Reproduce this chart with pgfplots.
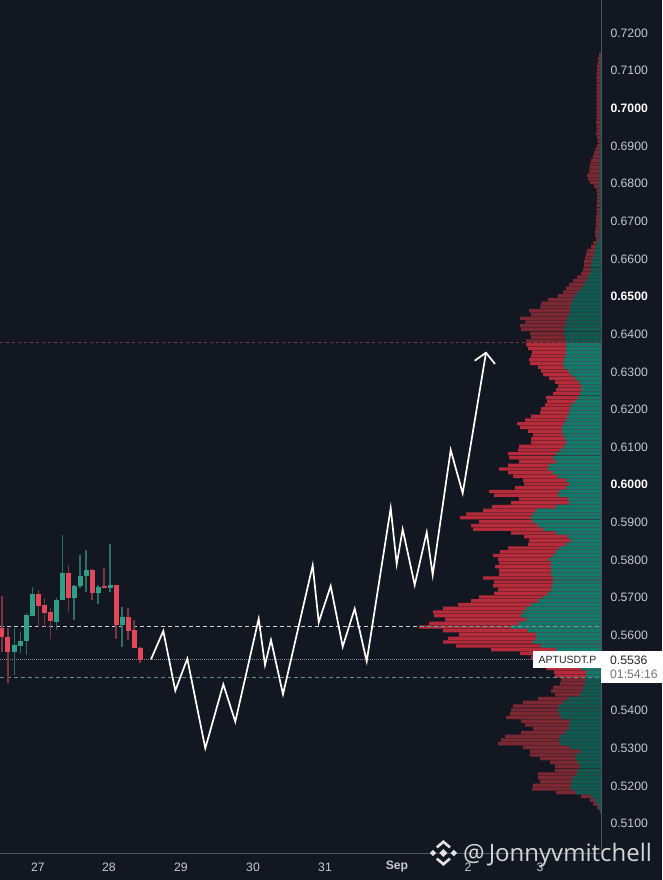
\documentclass[border=0pt]{standalone}
\usepackage{fontspec}
\usepackage{pgfplots}
\usepackage{pgfplotstable}
\pgfplotsset{compat=1.18}
\setmainfont{Liberation Sans}
\newfontfamily\wmfont{Open Sans}
\definecolor{bg}{HTML}{131722}
\definecolor{pred}{HTML}{B52B3A}
\definecolor{pgreen}{HTML}{10796A}
\definecolor{dred}{HTML}{7B2833}
\definecolor{dgreen}{HTML}{0E5A50}
\definecolor{cred}{HTML}{E2475A}
\definecolor{cgreen}{HTML}{2F9E86}
\definecolor{wred}{HTML}{7A3642}
\definecolor{wgreen}{HTML}{2A6E68}
\definecolor{axisln}{HTML}{50545E}
\definecolor{tick}{HTML}{C6C9D0}
\pgfplotstableread{
p T G
0.714 2 0.5
0.713 3 1
0.712 3.5 1
0.711 4 1
0.710 4 1
0.709 4.5 1
0.708 4.5 1
0.707 4.5 1
0.706 4.5 1
0.705 4.5 1
0.704 4.5 1
0.703 4.5 1
0.702 4.5 1
0.701 4.5 1
0.700 4.5 1
0.699 4.5 1
0.698 4.5 1
0.697 4.5 1
0.696 5 1
0.695 4.5 1
0.694 4.5 1
0.693 5 1
0.692 4 1
0.691 3.5 1
0.690 4 1
0.689 5.5 1.5
0.688 7 1.5
0.687 8 1.5
0.686 10 1.5
0.685 11 2
0.684 11.5 2
0.683 12 2
0.682 14 2
0.681 13 2
0.680 11 2
0.679 7 2
0.678 4.5 1.5
0.677 4 1.5
0.676 4 1.5
0.675 4 1.5
0.674 4.5 1.5
0.673 4.5 1.5
0.672 4.5 1.5
0.671 5 1.5
0.670 5 1.5
0.669 5 1.5
0.668 5.5 1.5
0.667 6 2
0.666 6 2
0.665 5 2
0.664 8 4
0.663 10 5
0.662 14 6
0.661 15 7
0.660 16 8
0.659 17 9
0.658 17 10
0.657 18 10
0.656 20 11
0.655 24 13
0.654 28 15
0.653 32 17
0.652 35 20
0.651 38 23
0.650 43 26
0.649 53 28
0.648 60 30
0.647 61 31
0.646 72 31
0.645 70 32
0.644 81 34
0.643 76 35
0.642 81 36
0.641 80 37
0.640 71 37
0.639 70 36
0.638 75 35
0.637 75 35
0.636 73 35
0.635 69 35
0.634 70 36
0.633 72 37
0.632 71 38
0.631 63 37
0.630 60 33
0.629 58 30
0.628 52 26
0.627 46 22
0.626 43 20
0.625 45 20
0.624 48 21
0.623 55 23
0.622 54 26
0.621 56 30
0.620 60 31
0.619 61 32
0.618 70 34
0.617 76 35
0.616 84 37
0.615 81 39
0.614 73 39
0.613 68 38
0.612 70 36
0.611 70 35
0.610 82 37
0.609 83 40
0.608 93 45
0.607 92 48
0.606 82 45
0.605 93 52
0.604 102 53
0.603 93 48
0.602 88 43
0.601 78 35
0.600 77 32
0.599 86 35
0.598 112 42
0.597 107 43
0.596 82 33
0.595 90 32
0.594 109 45
0.593 118 65
0.592 135 68
0.591 141 70
0.590 122 68
0.589 130 63
0.588 128 58
0.587 90 45
0.586 77 33
0.585 72 30
0.584 73 35
0.583 93 42
0.582 101 45
0.581 108 48
0.580 103 52
0.579 102 50
0.578 106 50
0.577 102 50
0.576 102 50
0.575 118 48
0.574 107 48
0.573 108 49
0.572 103 50
0.571 107 53
0.570 122 58
0.569 130 63
0.568 143 70
0.567 158 75
0.566 168 78
0.565 167 80
0.564 156 75
0.563 172 82
0.562 182 90
0.561 158 73
0.560 142 65
0.559 153 65
0.558 158 68
0.557 145 60
0.556 110 45
0.555 81 43
0.554 70 40
0.553 65 35
0.552 60 30
0.551 55 20
0.550 47 15
0.549 46 15
0.548 40 16
0.547 41 16
0.546 48 18
0.545 50 19
0.544 46 21
0.543 63 33
0.542 78 38
0.541 88 42
0.540 90 43
0.539 91 42
0.538 95 40
0.537 80 31
0.536 76 32
0.535 68 33
0.534 80 36
0.533 96 41
0.532 100 42
0.531 103 41
0.530 78 31
0.529 71 21
0.528 71 26
0.527 61 25
0.526 51 23
0.525 46 21
0.524 46 23
0.523 63 25
0.522 63 28
0.521 61 30
0.520 68 30
0.519 69 30
0.518 45 25
0.517 20 10
0.516 11 6
0.515 8 4
0.514 4 2
0.513 1.5 1
}\profile
\begin{document}
\begin{tikzpicture}[x=1pt,y=1pt]
\path[use as bounding box,fill=bg] (0,0) rectangle (662,880);
% volume profile: width measured leftwards from the price scale
\begin{axis}[at={(0pt,27pt)},anchor=south west,scale only axis,width=601pt,height=853pt,
  x dir=reverse,xmin=0,xmax=601,ymin=0.50199,ymax=0.72855,hide axis,clip=true,
  xbar,bar width=3.25pt,bar shift=0pt]
\addplot[draw=none,fill=pred,restrict y to domain=0.5485:0.6375] table[x=T,y=p]{\profile};
\addplot[draw=none,fill=pgreen,restrict y to domain=0.5485:0.6375] table[x=G,y=p]{\profile};
\addplot[draw=none,fill=dred,restrict y to domain=0.6375:0.72] table[x=T,y=p]{\profile};
\addplot[draw=none,fill=dgreen,restrict y to domain=0.6375:0.72] table[x=G,y=p]{\profile};
\addplot[draw=none,fill=dred,restrict y to domain=0.51:0.5485] table[x=T,y=p]{\profile};
\addplot[draw=none,fill=dgreen,restrict y to domain=0.51:0.5485] table[x=G,y=p]{\profile};
\end{axis}
% price chart
\begin{axis}[at={(0pt,27pt)},anchor=south west,scale only axis,width=601pt,height=853pt,
  xmin=0,xmax=601,ymin=0.50199,ymax=0.72855,clip=true,
  axis x line=bottom,axis y line=right,axis line style={-,draw=axisln,line width=0.8pt},
  major tick length=0pt,minor tick num=0,
  xtick={38,109,181,253,325,397,468,540},
  xticklabels={27,28,29,30,31,\textbf{Sep},2,3},
  ytick={0.51,0.52,0.53,0.54,0.56,0.57,0.58,0.59,0.60,0.61,0.62,0.63,0.64,0.65,0.66,0.67,0.68,0.69,0.70,0.71,0.72},
  yticklabels={0.5100,0.5200,0.5300,0.5400,0.5600,0.5700,0.5800,0.5900,\textcolor{white}{\textbf{0.6000}},0.6100,0.6200,0.6300,0.6400,\textcolor{white}{\textbf{0.6500}},0.6600,0.6700,0.6800,0.6900,\textcolor{white}{\textbf{0.7000}},0.7100,0.7200},
  tick label style={font=\fontsize{12.2}{14}\selectfont,text=tick},
  yticklabel style={anchor=west,xshift=6pt,yshift=-0.8pt},
  xticklabel style={anchor=center,yshift=-14pt},
  ]
% level lines
\addplot[draw=white!80!bg,dash pattern=on 4pt off 3pt,line width=0.7pt] coordinates {(0,0.5623)(420,0.5623)};
\addplot[draw=white!35!pgreen,dash pattern=on 4pt off 3pt,line width=0.4pt] coordinates {(420,0.5623)(601,0.5623)};
\addplot[draw=white!50!bg,dash pattern=on 1pt off 1pt,line width=0.7pt] coordinates {(0,0.5534)(533,0.5534)};
\addplot[draw=wgreen!75!white,dash pattern=on 4pt off 3pt,line width=0.6pt] coordinates {(0,0.5487)(601,0.5487)};
\addplot[draw=wred,dash pattern=on 3pt off 3pt,line width=0.7pt] coordinates {(0,0.6377)(601,0.6377)};
% wicks
\addplot[draw=wred,line width=1.1pt,unbounded coords=jump] table {
x y
2 0.57025
2 0.55547
nan nan
8 0.56167
8 0.54706
nan nan
38.3 0.57185
38.3 0.56211
nan nan
44.3 0.56963
44.3 0.56211
nan nan
50.3 0.56698
50.3 0.55874
nan nan
68.3 0.57849
68.3 0.56609
nan nan
92 0.57734
92 0.56919
nan nan
104 0.57760
104 0.57229
nan nan
116 0.57318
116 0.55874
nan nan
128 0.56698
128 0.55857
nan nan
134 0.56388
134 0.55635
nan nan
140 0.55680
140 0.55237
};
\addplot[draw=wgreen,line width=1.1pt,unbounded coords=jump] table {
x y
14.3 0.56167
14.3 0.54927
nan nan
20.3 0.56078
20.3 0.55503
nan nan
26.3 0.56565
26.3 0.55458
nan nan
32.3 0.57273
32.3 0.56521
nan nan
56.3 0.56963
56.3 0.56122
nan nan
62.3 0.58646
62.3 0.56919
nan nan
74 0.57318
74 0.56388
nan nan
80 0.58114
80 0.57229
nan nan
86 0.58247
86 0.57140
nan nan
98 0.57318
98 0.56813
nan nan
110 0.58407
110 0.57140
nan nan
122 0.56724
122 0.55680
};
% bodies
\addplot[draw=cred,line width=5pt,unbounded coords=jump] table {
x y
2 0.56167
2 0.55945
nan nan
8 0.55945
8 0.55547
nan nan
38.3 0.57078
38.3 0.56769
nan nan
44.3 0.56795
44.3 0.56583
nan nan
50.3 0.56600
50.3 0.56361
nan nan
68.3 0.57645
68.3 0.56963
nan nan
92 0.57716
92 0.57114
nan nan
104 0.57291
104 0.57229
nan nan
116 0.57318
116 0.56255
nan nan
128 0.56476
128 0.56105
nan nan
134 0.56122
134 0.55653
nan nan
140 0.55653
140 0.55325
};
\addplot[draw=cgreen,line width=5pt,unbounded coords=jump] table {
x y
14.3 0.55724
14.3 0.55547
nan nan
20.3 0.55839
20.3 0.55706
nan nan
26.3 0.56521
26.3 0.55839
nan nan
32.3 0.57078
32.3 0.56503
nan nan
56.3 0.56919
56.3 0.56344
nan nan
62.3 0.57645
62.3 0.56919
nan nan
74 0.57291
74 0.56963
nan nan
80 0.57565
80 0.57291
nan nan
86 0.57716
86 0.57565
nan nan
98 0.57273
98 0.57114
nan nan
110 0.57318
110 0.57229
nan nan
122 0.56476
122 0.56255
};
% projected path
\addplot[draw=white,line width=1.7pt,line join=miter] coordinates {
(151,0.55344)(163.3,0.56096)(175.3,0.5451)(187.3,0.5536)(205.3,0.5298)(223.3,0.5468)(235.3,0.53687)
(258.7,0.56422)(265,0.55193)(271,0.55857)(283,0.54414)(312.7,0.57841)(318.7,0.56327)(330.7,0.57291)
(342.7,0.55679)(354.7,0.56688)(366.7,0.55291)(390.7,0.59363)(396.7,0.57875)(402.7,0.58797)
(414.7,0.57317)(426.7,0.58717)(432.7,0.57583)(450.7,0.60903)(462.7,0.59753)(486,0.63487)};
\addplot[draw=white,line width=1.7pt] coordinates {(474.7,0.63275)(486,0.63487)(495,0.63187)};
\end{axis}
% price tag boxes
\fill[white] (533,212) rectangle (601,229);
\fill[white] (601,197) rectangle (662,229);
\node[anchor=center,text=black!85,font=\fontsize{10.5}{12}\selectfont,inner sep=0pt] at (567.5,220) {APTUSDT.P};
\node[anchor=west,text=black!85,font=\fontsize{12.2}{14}\selectfont,inner sep=0pt] at (610,220) {0.5536};
\node[anchor=west,text=black!55,font=\fontsize{12.2}{14}\selectfont,inner sep=0pt] at (610,206) {01:54:16};
% watermark logo
\fill[white!88!bg] (443.3,31) -- (447.3,27) -- (443.3,23) -- (439.3,27) -- cycle;
\fill[white!88!bg] (433,30.2) -- (436.2,27) -- (433,23.8) -- (429.8,27) -- cycle;
\fill[white!88!bg] (453.8,30.2) -- (457,27) -- (453.8,23.8) -- (450.6,27) -- cycle;
\draw[white!88!bg,line width=2.6pt,line join=miter] (436.8,32.6) -- (443.4,38.2) -- (450,32.6);
\draw[white!88!bg,line width=2.6pt,line join=miter] (436.8,21.4) -- (443.4,15.8) -- (450,21.4);
\node[anchor=base west,inner sep=0pt,text=white!82!bg,font=\wmfont\fontsize{24}{28}\selectfont] at (463,18) {@\hspace{4pt}Jonnyvmitchell};
\end{tikzpicture}
\end{document}
